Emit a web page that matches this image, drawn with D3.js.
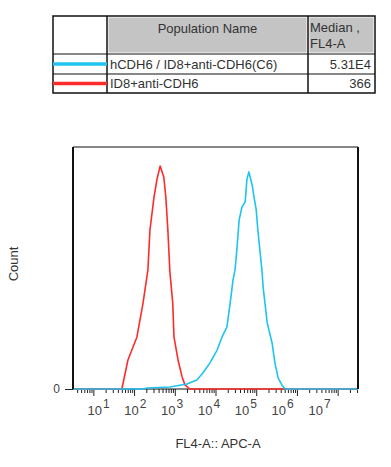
<!DOCTYPE html>
<html><head><meta charset="utf-8">
<script src="https://cdn.jsdelivr.net/npm/d3@7"></script>
<style>
html,body{margin:0;padding:0;background:#fff;}
svg{display:block;font-family:"Liberation Sans",Arial,sans-serif;}
</style></head>
<body>
<svg id="c" width="391" height="467"></svg>
<script>
// ---- data ----
const populations = ["hCDH6 / ID8+anti-CDH6(C6)", "ID8+anti-CDH6"];
const medians = ["5.31E4", "366"];
const colors = ["#1ec3f2", "#ff2b2b"];
const headerNames = ["Population Name", "Median ,", "FL4-A"];
const xLabel = "FL4-A:: APC-A";
const yLabel = "Count";
const decadeExps = [1, 2, 3, 4, 5, 6, 7];
// histogram traces: [log10(FL4-A), count (% of max)]
const blueLog = [0.5,2.2,2.32,2.88,3.30,3.54,3.69,3.86,4.04,4.16,4.28,4.36,4.43,4.48,4.53,4.58,4.65,4.73,4.77,4.82,4.90,4.95,5.00,5.04,5.14,5.17,5.27,5.39,5.46,5.54,5.63,5.71,7.5];
const blueCount = [0,0,0.4,0.8,2.1,3.7,6.6,10.7,16.1,21.5,25.6,35.5,45.0,49.2,58.7,69.8,75.2,77.3,86.4,89.7,84.3,78.9,74.0,65.7,49.2,42.1,27.3,19.0,10.7,4.5,1.7,0,0];
const redLog = [0.5,1.70,1.85,2.07,2.22,2.34,2.39,2.49,2.56,2.64,2.73,2.78,2.83,2.88,2.95,2.98,3.08,3.18,3.25,3.37,7.5];
const redCount = [0,0,12.0,21.5,35.5,49.2,65.7,79.3,86.4,92.1,87.6,79.3,65.7,48.3,35.5,21.5,12.0,5.0,1.7,0,0];

const svg = d3.select("#c");

// ---- table (legend) ----
const tX = [53, 107, 308, 375], tY = [16, 54, 74, 93];
const tg = svg.append("g");
tg.append("rect").attr("x", tX[1]+1.5).attr("y", tY[0]+1.5).attr("width", tX[2]-tX[1]-3).attr("height", tY[1]-tY[0]-3).attr("fill", "#c4c4c4");
tg.append("rect").attr("x", tX[2]+1.5).attr("y", tY[0]+1.5).attr("width", tX[3]-tX[2]-3).attr("height", tY[1]-tY[0]-3).attr("fill", "#c4c4c4");
tg.append("rect").attr("x", tX[0]).attr("y", tY[0]).attr("width", tX[3]-tX[0]).attr("height", tY[3]-tY[0]).attr("fill", "none").attr("stroke", "#111").attr("stroke-width", 1.5);
[tX[1], tX[2]].forEach(x => tg.append("line").attr("x1", x).attr("x2", x).attr("y1", tY[0]).attr("y2", tY[3]).attr("stroke", "#111").attr("stroke-width", 1.5));
[tY[1], tY[2]].forEach(y => tg.append("line").attr("x1", tX[0]).attr("x2", tX[3]).attr("y1", y).attr("y2", y).attr("stroke", "#111").attr("stroke-width", 1.2));
tg.append("text").attr("x", (tX[1]+tX[2])/2).attr("y", 33).attr("text-anchor", "middle").attr("font-size", 13).attr("fill", "#333").text(headerNames[0]);
tg.append("text").attr("x", tX[2]+2).attr("y", 32).attr("font-size", 13).attr("fill", "#333").text(headerNames[1]);
tg.append("text").attr("x", tX[2]+2).attr("y", 48).attr("font-size", 13).attr("fill", "#333").text(headerNames[2]);
populations.forEach((p, i) => {
  const yc = (tY[i+1] + tY[i+2]) / 2;
  tg.append("line").attr("x1", tX[0]).attr("x2", tX[1]).attr("y1", yc).attr("y2", yc).attr("stroke", colors[i]).attr("stroke-width", 3.5);
  tg.append("text").attr("x", tX[1]+3).attr("y", yc+4.5).attr("font-size", 13).attr("fill", "#333").text(p);
  tg.append("text").attr("x", tX[3]-4).attr("y", yc+4.5).attr("text-anchor", "end").attr("font-size", 13).attr("fill", "#333").text(medians[i]);
});

// ---- plot ----
const L = 73, R = 358, T = 147, B = 389;
const x = d3.scaleLog().domain([Math.pow(10, 0.5), Math.pow(10, 7.5)]).range([L, R]);
const y = d3.scaleLinear().domain([0, 100]).range([B, T]);
const labelScale = d3.scaleLog().domain([10, 1e7]).range([98, 319]);

// ticks
const minorVals = [], majorVals = [];
for (let k = 0; k <= 7; k++) for (let m = 1; m <= 9; m++) {
  const v = m * Math.pow(10, k);
  if (v >= x.domain()[0] && v <= x.domain()[1]) (m === 1 ? majorVals : minorVals).push(v);
}
const axMinor = svg.append("g").attr("transform", `translate(0,${B})`)
  .call(d3.axisBottom(x).tickValues(minorVals).tickSize(4).tickFormat(""));
const axMajor = svg.append("g").attr("transform", `translate(0,${B})`)
  .call(d3.axisBottom(x).tickValues(majorVals).tickSize(7).tickFormat(""));
[axMinor, axMajor].forEach(a => { a.select(".domain").remove(); a.selectAll(".tick line").attr("stroke", "#222").attr("stroke-width", 1); });

const axLab = svg.append("g").attr("transform", `translate(0,${B})`)
  .call(d3.axisBottom(labelScale).tickValues(decadeExps.map(e => Math.pow(10, e))).tickSize(0).tickFormat(""));
axLab.select(".domain").remove();
axLab.selectAll(".tick").each(function(d) {
  const t = d3.select(this).append("text").attr("y", 26).attr("fill", "#444").attr("font-size", 13).attr("text-anchor", "middle");
  t.append("tspan").text("10");
  t.append("tspan").attr("dy", -7).attr("dx", 1).attr("font-size", 12).text(Math.round(Math.log10(d)));
});

// y axis: only 0
const ay = svg.append("g").attr("transform", `translate(${L},0)`)
  .call(d3.axisLeft(y).tickValues([0]).tickSize(8).tickPadding(5));
ay.select(".domain").remove();
ay.selectAll(".tick line").attr("stroke", "#222");
ay.selectAll(".tick text").attr("font-size", 12).attr("fill", "#444").attr("font-family", "Liberation Sans, Arial, sans-serif");

// curves
const line = d3.line().x(d => x(Math.pow(10, d[0]))).y(d => y(d[1]));
const redData = redLog.map((v, i) => [v, redCount[i]]);
const blueData = blueLog.map((v, i) => [v, blueCount[i]]);
svg.append("path").datum(redData).attr("d", line).attr("fill", "none").attr("stroke", colors[1]).attr("stroke-width", 1.6).attr("stroke-linejoin", "round");
svg.append("path").datum(blueData).attr("d", line).attr("fill", "none").attr("stroke", colors[0]).attr("stroke-width", 1.6).attr("stroke-linejoin", "round");

// frame
svg.append("line").attr("x1", L).attr("x2", R).attr("y1", T).attr("y2", T).attr("stroke", "#111").attr("stroke-width", 1.2);
svg.append("line").attr("x1", L).attr("x2", L).attr("y1", T).attr("y2", B).attr("stroke", "#111").attr("stroke-width", 2);
svg.append("line").attr("x1", R).attr("x2", R).attr("y1", T).attr("y2", B).attr("stroke", "#111").attr("stroke-width", 2);
svg.insert("line", "path").attr("x1", L).attr("x2", R).attr("y1", B).attr("y2", B).attr("stroke", "#111").attr("stroke-width", 1);

// axis titles
svg.append("text").attr("x", 218).attr("y", 448).attr("text-anchor", "middle").attr("font-size", 13).attr("fill", "#333").text(xLabel);
svg.append("text").attr("transform", "translate(18,264) rotate(-90)").attr("text-anchor", "middle").attr("font-size", 13).attr("fill", "#333").text(yLabel);
</script>
</body></html>
